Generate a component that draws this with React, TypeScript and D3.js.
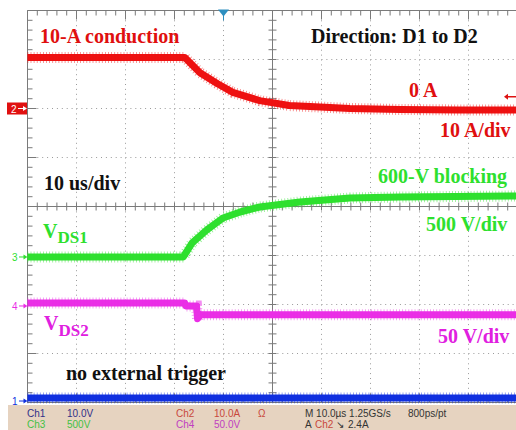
import React from "react";
import * as d3 from "d3";

// ---- data ----
// time in microseconds from left edge of the screen (10 us/div)
const ch2Time = [0, 32.1, 35.2, 38.7, 41.9, 47.4, 53.4, 59.7, 65.8, 76, 88, 100];
const ch2Amps = [10.4, 10.4, 7.3, 5.1, 3.3, 1.6, 0.6, 0.3, 0, -0.2, -0.3, -0.3];

const ch3Time = [0, 31.8, 33.6, 36.6, 39.9, 43.4, 47.4, 55.6, 65.8, 76, 100];
const ch3Volts = [0, 0, 143, 276, 398, 459, 510, 561, 602, 612, 622];

const ch4Time = [0, 32.1, 32.3, 34.5, 34.7, 35.3, 60, 100];
const ch4Volts = [3, 3, 0, 0, -13, -9, -9, -9];

const ch1Time = [0, 100];
const ch1Volts = [0.6, 0.6];

const channels = [
  { id: "1", time: ch1Time, vals: ch1Volts, perDiv: 10, offset: -3.97, color: "#1030e0" },
  { id: "3", time: ch3Time, vals: ch3Volts, perDiv: 500, offset: -1.03, color: "#2ee02e" },
  { id: "4", time: ch4Time, vals: ch4Volts, perDiv: 50, offset: -2.03, color: "#ea2ee6" },
  { id: "2", time: ch2Time, vals: ch2Amps, perDiv: 10, offset: 2.0, color: "#ee1111" },
];

const annotations = [
  { text: "10-A conduction", x: 40, y: 43, color: "#e00f0f" },
  { text: "Direction: D1 to D2", x: 311, y: 43, color: "#111" },
  { text: "0 A", x: 409, y: 97, color: "#e00f0f" },
  { text: "10 A/div", x: 440, y: 137, color: "#e00f0f" },
  { text: "10 us/div", x: 44, y: 190, color: "#111" },
  { text: "600-V blocking", x: 378, y: 183, color: "#2ee02e" },
  { text: "500 V/div", x: 426, y: 231, color: "#2ee02e" },
  { text: "50 V/div", x: 438, y: 343, color: "#e020e0" },
  { text: "no external trigger", x: 66, y: 380, color: "#111" },
];

const statusRow1 = [
  { text: "Ch1", x: 27, color: "#303088" },
  { text: "10.0V", x: 67, color: "#303088" },
  { text: "Ch2", x: 176, color: "#c8483c" },
  { text: "10.0A", x: 214, color: "#c8483c" },
  { text: "Ω", x: 258, color: "#c8483c" },
  { text: "M 10.0µs 1.25GS/s", x: 305, color: "#333" },
  { text: "800ps/pt", x: 408, color: "#333" },
];
const statusRow2 = [
  { text: "Ch3", x: 27, color: "#44c044" },
  { text: "500V", x: 67, color: "#44c044" },
  { text: "Ch4", x: 176, color: "#c040c0" },
  { text: "50.0V", x: 214, color: "#c040c0" },
  { text: "A", x: 305, color: "#333" },
  { text: "Ch2", x: 315, color: "#c8483c" },
  { text: "↘", x: 336, color: "#333" },
  { text: "2.4A", x: 348, color: "#333" },
];

const triggerLevelAmps = 2.4;
const triggerTimeUs = 40;

const W = 516;
const H = 430;
const LEFT = 27.5;
const TOP = 10.5;
const DIV = 49;

export default function App() {
  const x = d3.scaleLinear().domain([0, 100]).range([LEFT, LEFT + 10 * DIV]);
  const yDiv = d3.scaleLinear().domain([-4, 4]).range([TOP + 8 * DIV, TOP]);
  const cx = x(50);
  const cy = yDiv(0);
  const bottom = yDiv(-4);
  const right = x(100);

  const gridCol = "#9a9a9a";
  const borderCol = "#7a7a7a";

  const minorX = d3.range(0, 100.01, 2);
  const minorY = d3.range(-4, 4.01, 0.2);
  const majorX = d3.range(10, 100, 10);
  const majorY = d3.range(-3, 4, 1);

  const lineFor = (ch: any) =>
    d3
      .line<number>()
      .x((_, i) => x(ch.time[i]))
      .y((v) => yDiv(ch.offset + v / ch.perDiv))(ch.vals) || "";

  const serif = "'Liberation Serif', 'Times New Roman', serif";
  const sans = "'Liberation Sans', Arial, sans-serif";

  return (
    <svg
      width={W}
      height={H}
      style={{ position: "absolute", left: 0, top: 0, background: "#fff" }}
    >
      {/* dotted grid */}
      {majorX.filter((t) => t !== 50).map((t) => (
        <line key={"gx" + t} x1={x(t)} x2={x(t)} y1={TOP} y2={bottom}
          stroke={gridCol} strokeWidth={1} strokeDasharray="1 3.9" />
      ))}
      {majorY.filter((d) => d !== 0).map((d) => (
        <line key={"gy" + d} x1={LEFT} x2={right} y1={yDiv(d)} y2={yDiv(d)}
          stroke={gridCol} strokeWidth={1} strokeDasharray="1 3.9" />
      ))}
      {/* center axes */}
      <line x1={LEFT} x2={right} y1={cy} y2={cy} stroke={borderCol} strokeWidth={1} />
      <line x1={cx} x2={cx} y1={TOP} y2={bottom} stroke={borderCol} strokeWidth={1} />
      {minorX.map((t) => (
        <line key={"cxt" + t} x1={x(t)} x2={x(t)} y1={cy - 4} y2={cy + 4} stroke={borderCol} />
      ))}
      {minorY.map((d) => (
        <line key={"cyt" + d} x1={cx - 4} x2={cx + 4} y1={yDiv(d)} y2={yDiv(d)} stroke={borderCol} />
      ))}
      {/* borders with ticks */}
      <line x1={LEFT} x2={right} y1={TOP} y2={TOP} stroke={borderCol} />
      <line x1={LEFT} x2={LEFT} y1={TOP} y2={bottom} stroke={borderCol} />
      <line x1={LEFT} x2={right} y1={bottom} y2={bottom} stroke={borderCol} />
      {minorX.map((t, i) => (
        <g key={"bt" + t}>
          <line x1={x(t)} x2={x(t)} y1={TOP} y2={TOP + (i % 5 === 0 ? 9 : 5)} stroke={borderCol} />
          <line x1={x(t)} x2={x(t)} y1={bottom} y2={bottom - (i % 5 === 0 ? 9 : 5)} stroke={borderCol} />
        </g>
      ))}
      {minorY.map((d, i) => (
        <line key={"lt" + d} x1={LEFT} x2={LEFT + (i % 5 === 0 ? 9 : 5)} y1={yDiv(d)} y2={yDiv(d)} stroke={borderCol} />
      ))}

      {/* traces */}
      {channels.map((ch) => {
        const p = lineFor(ch);
        return (
          <g key={"tr" + ch.id}>
            <path d={p} fill="none" stroke={ch.color} strokeWidth={7} strokeLinejoin="round" />
            <path d={p} fill="none" stroke={ch.color} strokeWidth={11} strokeDasharray="0.8 2.3" opacity={0.55} />
          </g>
        );
      })}

      {/* trigger position marker */}
      <line x1={x(triggerTimeUs)} x2={x(triggerTimeUs)} y1={TOP} y2={TOP + 10} stroke="#2e8fc0" strokeWidth={1} />
      <polygon
        points={`${x(triggerTimeUs) - 5.5},${TOP - 1} ${x(triggerTimeUs) + 5.5},${TOP - 1} ${x(triggerTimeUs)},${TOP + 6}`}
        fill="#2e8fc0"
      />
      {/* trigger level arrow */}
      {(() => {
        const ty = yDiv(2.0 + triggerLevelAmps / 10);
        return (
          <g>
            <line x1={506} x2={516} y1={ty} y2={ty} stroke="#dd1111" strokeWidth={1.5} />
            <polygon points={`${504},${ty} ${508},${ty - 3} ${508},${ty + 3}`} fill="#dd1111" />
          </g>
        );
      })()}

      {/* channel ground markers */}
      {channels.map((ch) => {
        const gy = yDiv(ch.offset);
        if (ch.id === "2") {
          return (
            <g key={"m" + ch.id}>
              <rect x={7} y={gy - 6} width={20} height={12} fill="#e01010" />
              <text x={11} y={gy + 4} fontSize={10} fill="#fff" fontFamily={sans}>2</text>
              <line x1={18} x2={26} y1={gy} y2={gy} stroke="#fff" strokeWidth={1} />
              <polygon points={`27,${gy} 23,${gy - 2.5} 23,${gy + 2.5}`} fill="#fff" />
            </g>
          );
        }
        return (
          <g key={"m" + ch.id}>
            <text x={12} y={gy + 4} fontSize={10} fill={ch.color} fontFamily={sans}>{ch.id}</text>
            <line x1={19} x2={26} y1={gy} y2={gy} stroke={ch.color} strokeWidth={1} />
            <polygon points={`27.5,${gy} 23.5,${gy - 2.5} 23.5,${gy + 2.5}`} fill={ch.color} />
          </g>
        );
      })}

      {/* annotations */}
      {annotations.map((a) => (
        <text key={a.text} x={a.x} y={a.y} fill={a.color} fontSize={20} fontWeight="bold" fontFamily={serif}>
          {a.text}
        </text>
      ))}
      <text x={43} y={238} fill="#2ee02e" fontSize={20} fontWeight="bold" fontFamily={serif}>
        V<tspan fontSize={17} dy={5}>DS1</tspan>
      </text>
      <text x={44} y={330} fill="#e020e0" fontSize={20} fontWeight="bold" fontFamily={serif}>
        V<tspan fontSize={17} dy={6}>DS2</tspan>
      </text>

      {/* status bar */}
      <rect x={8} y={405} width={W - 8} height={H - 405} fill="#e6d3c0" />
      {statusRow1.map((s) => (
        <text key={"s1" + s.text + s.x} x={s.x} y={417} fontSize={10} fill={s.color} fontFamily={sans}>{s.text}</text>
      ))}
      {statusRow2.map((s) => (
        <text key={"s2" + s.text + s.x} x={s.x} y={428} fontSize={10} fill={s.color} fontFamily={sans}>{s.text}</text>
      ))}
    </svg>
  );
}
